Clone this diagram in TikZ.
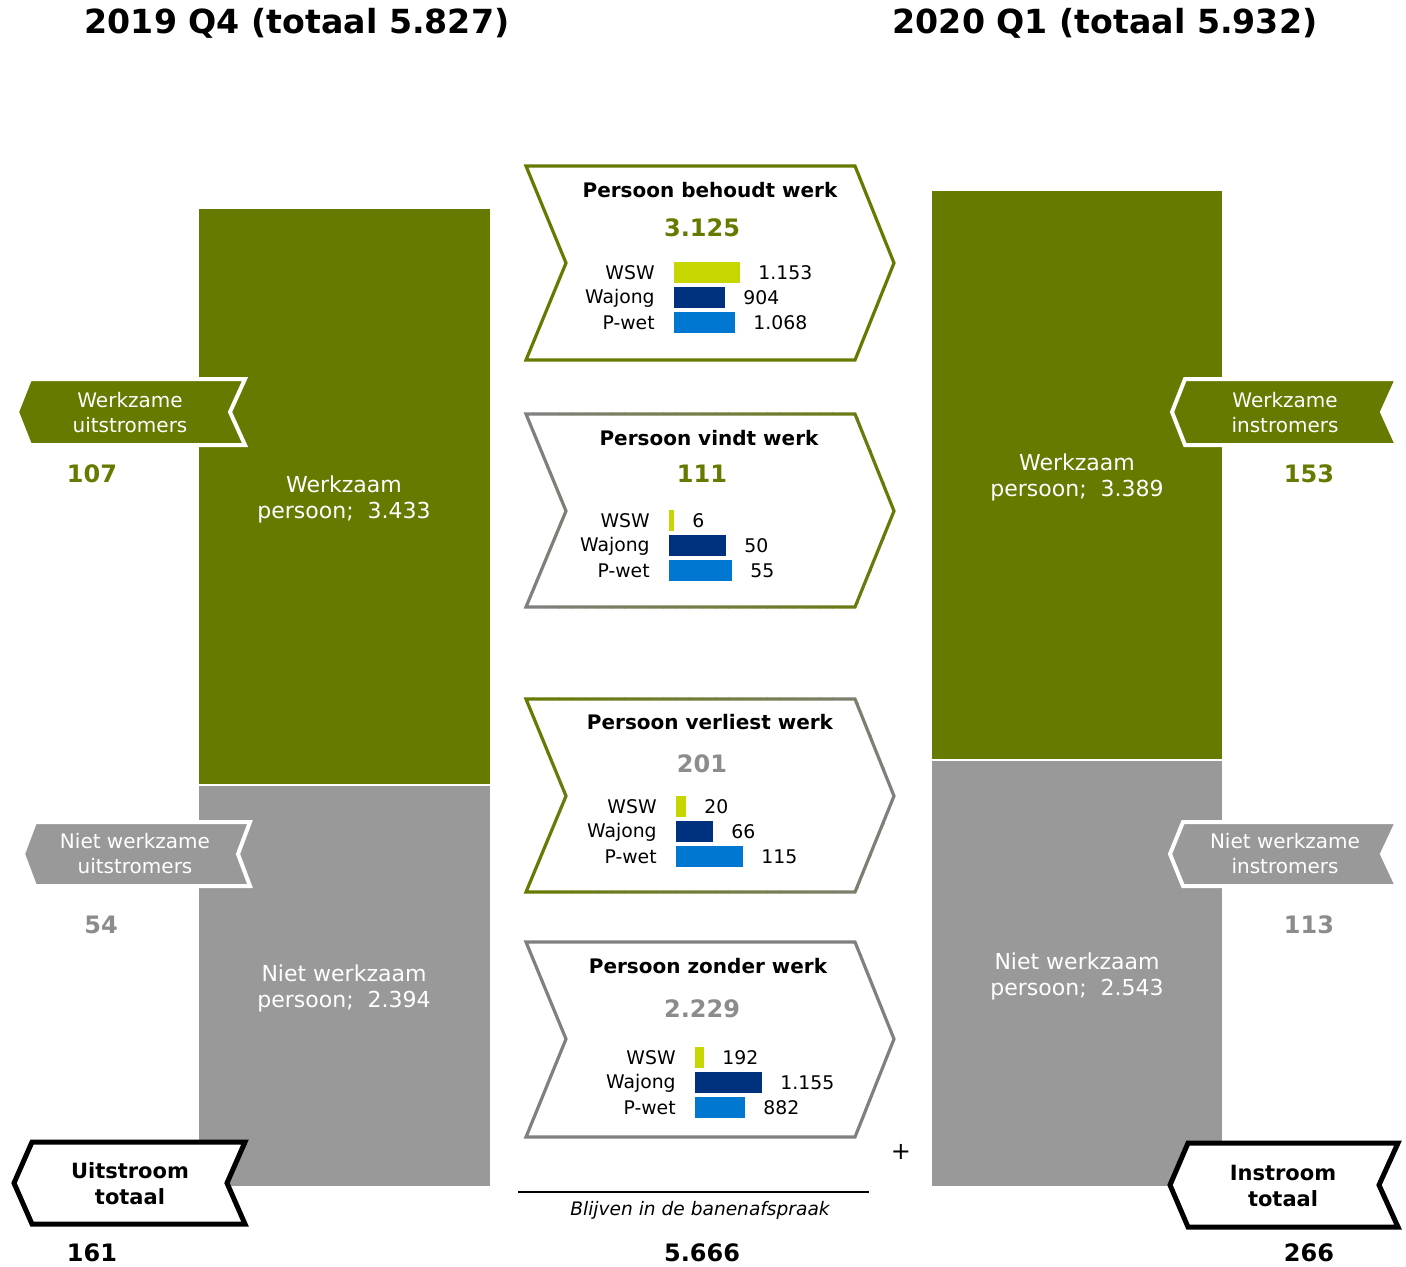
\documentclass[tikz,border=0pt]{standalone}
\usepackage{fontspec}
\setmainfont{DejaVu Sans}
\definecolor{werkgreen}{RGB}{102,122,0}
\definecolor{werkgray}{RGB}{153,153,153}
\definecolor{numgray}{RGB}{140,140,140}
\definecolor{chevgray}{RGB}{128,128,128}
\definecolor{wswlime}{RGB}{197,214,0}
\definecolor{wajongblue}{RGB}{0,49,127}
\definecolor{pwetblue}{RGB}{0,120,210}

\tikzset{
  tagbox/.style={line width=2pt, draw=white, line join=miter},
  totbox/.style={line width=2.5pt, draw=black, fill=white, line join=miter},
  chevbox/.style={line width=1.6pt, fill=white, line join=miter},
  bartext/.style={text=white, font=\fontsize{11}{13}\selectfont, align=center},
  tagtext/.style={text=white, font=\fontsize{10}{12.5}\selectfont, align=center},
  tottext/.style={font=\fontsize{10.5}{13}\selectfont\bfseries, align=center},
  bignum/.style={font=\fontsize{12}{14}\selectfont\bfseries},
  boxtitle/.style={font=\fontsize{10}{12}\selectfont\bfseries},
  barlab/.style={font=\fontsize{9.4}{11}\selectfont, inner sep=0pt},
  qtitle/.style={font=\fontsize{16.6}{20}\selectfont\bfseries},
}

% chevron outline: top, tip, bottom
\newcommand{\chev}[3]{(526,#1) -- (855,#1) -- (894,#2) -- (855,#3) -- (526,#3) -- (566,#2) -- cycle}

% chevron with a stroke running from one colour to another
\newcommand{\chevfade}[5]{%
  \foreach \s in {0,...,29}{
    \pgfmathsetmacro\xa{520+\s*13}
    \pgfmathsetmacro\xb{\xa+13.5}
    \pgfmathtruncatemacro\p{100*\s/29}
    \begin{scope}
      \clip (\xa,#1-10) rectangle (\xb,#3+10);
      \draw[chevbox, draw=#5!\p!#4] \chev{#1}{#2}{#3};
    \end{scope}
  }}

% bar rows: name, bar x, top y, list
\newcommand{\barrows}[4]{%
  \foreach \lab/\w/\val/\col [count=\i] in {#4}{
    \pgfmathsetmacro\yt{#3+(\i-1)*25}
    \fill[\col] (#2,\yt) rectangle ++(\w,21);
    \node[barlab, anchor=east] (#1-lab\i) at (#2-19,\yt+11) {\lab};
    \node[barlab, anchor=west] (#1-val\i) at (#2+\w+18,\yt+11) {\val};
  }}

\begin{document}
\begin{tikzpicture}[x=0.5pt, y=-0.5pt]
  \useasboundingbox[fill=white] (0,0) rectangle (1406,1266);

  % quarter titles
  \node[qtitle] (q-old) at (297,23) {2019 Q4 (totaal 5.827)};
  \node[qtitle] (q-new) at (1105,23) {2020 Q1 (totaal 5.932)};

  % stock columns
  \fill[werkgreen] (199,209) rectangle (490,784);
  \fill[werkgray] (199,786) rectangle (490,1186);
  \fill[werkgreen] (932,191) rectangle (1222,759);
  \fill[werkgray] (932,761) rectangle (1222,1186);
  \node[bartext] (old-werk) at (344,499) {Werkzaam\\persoon;~~3.433};
  \node[bartext] (old-niet) at (344,988) {Niet werkzaam\\persoon;~~2.394};
  \node[bartext] (new-werk) at (1077,477) {Werkzaam\\persoon;~~3.389};
  \node[bartext] (new-niet) at (1077,976) {Niet werkzaam\\persoon;~~2.543};

  % outflow tags
  \path[tagbox, fill=werkgreen] (30,379) -- (245,379) -- (230,412) -- (245,445) -- (30,445) -- (17,412) -- cycle;
  \node[tagtext] (uit-werk) at (130,413) {Werkzame\\uitstromers};
  \node[bignum, text=werkgreen] (uit-werk-n) at (92,474) {107};
  \path[tagbox, fill=werkgray] (35,822) -- (250,822) -- (238,854) -- (250,886) -- (35,886) -- (23,854) -- cycle;
  \node[tagtext] (uit-niet) at (135,854) {Niet werkzame\\uitstromers};
  \node[bignum, text=numgray] (uit-niet-n) at (101,925) {54};
  \path[totbox] (32,1142) -- (245,1142) -- (227,1183) -- (245,1224) -- (32,1224) -- (14,1183) -- cycle;
  \node[tottext] (uit-tot) at (130,1184) {Uitstroom\\totaal};
  \node[bignum] (uit-tot-n) at (92,1253) {161};

  % inflow tags
  \path[tagbox, fill=werkgreen] (1185,379) -- (1397,379) -- (1382,412) -- (1397,445) -- (1185,445) -- (1172,412) -- cycle;
  \node[tagtext] (in-werk) at (1285,413) {Werkzame\\instromers};
  \node[bignum, text=werkgreen] (in-werk-n) at (1309,474) {153};
  \path[tagbox, fill=werkgray] (1183,822) -- (1397,822) -- (1382,854) -- (1397,886) -- (1183,886) -- (1170,854) -- cycle;
  \node[tagtext] (in-niet) at (1285,854) {Niet werkzame\\instromers};
  \node[bignum, text=numgray] (in-niet-n) at (1309,925) {113};
  \path[totbox] (1188,1143) -- (1398,1143) -- (1379,1185) -- (1398,1227) -- (1188,1227) -- (1170,1185) -- cycle;
  \node[tottext] (in-tot) at (1283,1186) {Instroom\\totaal};
  \node[bignum] (in-tot-n) at (1309,1253) {266};

  % behoudt werk
  \draw[chevbox, draw=werkgreen] \chev{166}{263}{360};
  \node[boxtitle] (behoudt) at (710,190) {Persoon behoudt werk};
  \node[bignum, text=werkgreen] (behoudt-n) at (702,228) {3.125};
  \barrows{behoudt}{674}{262}{WSW/66/1.153/wswlime, Wajong/51/904/wajongblue, P-wet/61/1.068/pwetblue}

  % vindt werk
  \chevfade{414}{511}{607}{chevgray}{werkgreen}
  \node[boxtitle] (vindt) at (709,438) {Persoon vindt werk};
  \node[bignum, text=werkgreen] (vindt-n) at (702,474) {111};
  \barrows{vindt}{669}{510}{WSW/5/6/wswlime, Wajong/57/50/wajongblue, P-wet/63/55/pwetblue}

  % verliest werk
  \chevfade{699}{796}{892}{werkgreen}{chevgray}
  \node[boxtitle] (verliest) at (710,722) {Persoon verliest werk};
  \node[bignum, text=numgray] (verliest-n) at (702,764) {201};
  \barrows{verliest}{676}{796}{WSW/10/20/wswlime, Wajong/37/66/wajongblue, P-wet/67/115/pwetblue}

  % zonder werk
  \draw[chevbox, draw=chevgray] \chev{942}{1039}{1137};
  \node[boxtitle] (zonder) at (708,966) {Persoon zonder werk};
  \node[bignum, text=numgray] (zonder-n) at (702,1009) {2.229};
  \barrows{zonder}{695}{1047}{WSW/9/192/wswlime, Wajong/67/1.155/wajongblue, P-wet/50/882/pwetblue}

  % sum line
  \node[font=\fontsize{12}{14}\selectfont] (plus) at (901,1152) {+};
  \coordinate (sum-l) at (518,1192);
  \coordinate (sum-r) at (869,1192);
  \draw[line width=0.8pt] (sum-l) -- (sum-r);
  \node[font=\fontsize{9.3}{11}\selectfont\itshape] (blijven) at (700,1210) {Blijven in de banenafspraak};
  \node[bignum] (blijven-n) at (702,1253) {5.666};
\end{tikzpicture}
\end{document}
